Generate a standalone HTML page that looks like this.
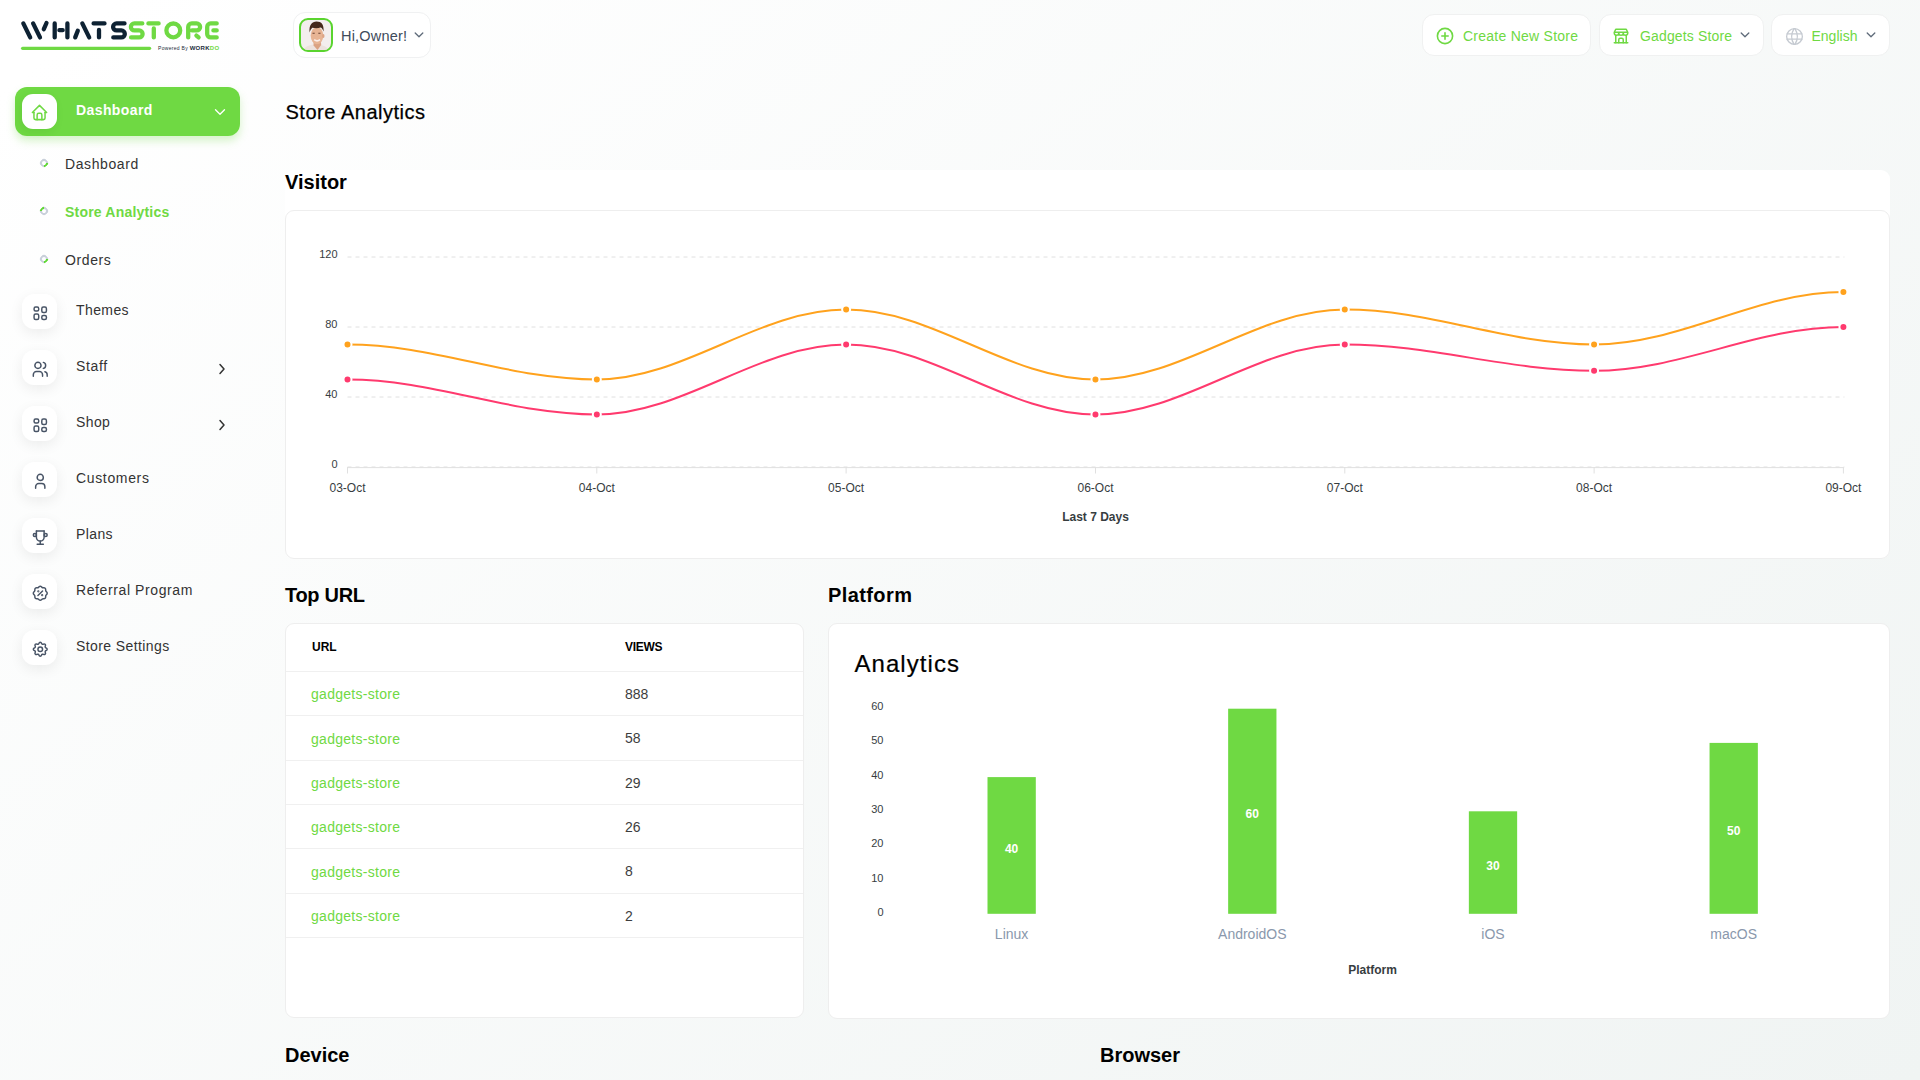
<!DOCTYPE html>
<html>
<head>
<meta charset="utf-8">
<style>
*{box-sizing:border-box;margin:0;padding:0}
html,body{width:1920px;height:1080px;overflow:hidden}
body{font-family:"Liberation Sans",sans-serif;background:linear-gradient(141.55deg,rgba(240,244,243,0) 3.46%,#f0f4f3 99.86%),#fff;position:relative;color:#333}
.a{position:absolute;white-space:nowrap}
.ibox{position:absolute;left:22px;width:35px;height:35px;border-radius:12px;background:#fff;box-shadow:0 4px 14px rgba(0,0,0,0.07)}
.ibox svg{position:absolute;left:9.2px;top:9.8px;width:18.5px;height:18.5px;fill:none;stroke:#485466;stroke-width:1.9;stroke-linecap:round;stroke-linejoin:round}
.mtxt{position:absolute;left:76px;font-size:14px;letter-spacing:0.4px;color:#333;white-space:nowrap;line-height:1}
.chev{position:absolute;left:218px;width:8px;height:12px}
.sub{position:absolute;left:65px;font-size:14px;letter-spacing:0.6px;color:#333;white-space:nowrap;line-height:1}
.dot{position:absolute;left:40px;width:8px;height:8px;border-radius:50%;border:2px solid #c9d0da}
.btn{position:absolute;top:14px;height:42px;background:#fff;border-radius:12px;border:1px solid #f0f1f1}
.btn .t{position:absolute;font-size:14px;color:#6fd943;white-space:nowrap;line-height:1}
.ttl{position:absolute;font-size:20px;font-weight:700;color:#000;white-space:nowrap;line-height:1}
.card{position:absolute;background:#fff;border:1px solid #eeeeee;border-radius:9px}
</style>
</head>
<body>
<!-- LOGO -->
<svg class="a" style="left:0;top:0" width="240" height="60" viewBox="0 0 240 60">
 <g fill="none" stroke="#0e2233" stroke-width="4.3" stroke-linecap="round" stroke-linejoin="round">
  <path d="M23.3,23.4 L30.2,37.4 M33.1,23.4 L40,37.4 M46.5,23 L43.8,29.2"/>
  <path d="M54.7,23.4 V37.4 M67.4,23.4 V37.4 M59.4,30.2 H62.7"/>
  <path d="M77.8,30.8 L75.2,37.4 M82.3,23.4 L89.2,37.4"/>
  <path d="M93.6,23.4 H104.5 M99,30 V37.4"/>
  <path d="M124.5,23.4 H116.6 A3.5,3.5 0 0 0 116.6,30.4 H121.3 A3.5,3.5 0 0 1 121.3,37.4 H113.3"/>
 </g>
 <g fill="none" stroke="#6fd943" stroke-width="4.3" stroke-linecap="round" stroke-linejoin="round">
  <path d="M142.3,23.4 H134.4 A3.5,3.5 0 0 0 134.4,30.4 H139.1 A3.5,3.5 0 0 1 139.1,37.4 H131.1"/>
  <path d="M148.4,23.4 H158.6 M153.8,28.4 V37.4"/>
  <circle cx="173.3" cy="30.4" r="6.9"/>
  <path d="M188.2,37.4 V27 A3.6,3.6 0 0 1 191.8,23.4 H196.6 A3.5,3.5 0 0 1 196.6,30.4 H192 M196.4,35.6 L198.6,37.4"/>
  <path d="M216.7,23.4 H210.7 A3.5,3.5 0 0 0 207.2,26.9 V33.9 A3.5,3.5 0 0 0 210.7,37.4 H216.7 M213.4,30.4 H216.7"/>
  <path d="M22.6,48.3 H149.6" stroke-width="3.2"/>
 </g>
 <text x="158" y="50" font-family="Liberation Sans" font-size="5" fill="#1b2a38" letter-spacing="0.3">Powered By <tspan font-weight="700" font-size="6">WORK</tspan><tspan font-weight="700" font-size="6" fill="#6fd943">DO</tspan></text>
</svg>

<!-- SIDEBAR ACTIVE -->
<div class="a" style="left:15px;top:87px;width:225px;height:49px;background:#6fd943;border-radius:12px;box-shadow:0 5px 9px rgba(111,217,67,0.28)"></div>
<div class="a" style="left:22px;top:94px;width:35px;height:35px;background:#fff;border-radius:11px;box-shadow:-2px 3px 8px rgba(40,120,20,0.12)"></div>
<svg class="a" style="left:30px;top:103px" width="19" height="19" viewBox="0 0 24 24" fill="none" stroke="#6fd943" stroke-width="1.9" stroke-linecap="round" stroke-linejoin="round"><path d="M5 12l-2 0l9 -9l9 9l-2 0"/><path d="M5 12v7a2 2 0 0 0 2 2h10a2 2 0 0 0 2 -2v-7"/><path d="M9 21v-6a2 2 0 0 1 2 -2h2a2 2 0 0 1 2 2v6"/></svg>
<div class="a" style="left:76px;top:103px;font-size:14px;font-weight:700;color:#fff;line-height:1;letter-spacing:0.4px">Dashboard</div>
<svg class="a" style="left:214px;top:105.5px" width="12" height="12" viewBox="0 0 12 12" fill="none" stroke="#fff" stroke-width="1.35" stroke-linecap="round" stroke-linejoin="round"><path d="M1.5 3.8 L6 8.2 L10.5 3.8"/></svg>

<!-- SUB ITEMS -->
<div class="dot" style="top:159px;border-right-color:#5fd834;transform:rotate(45deg)"></div>
<div class="sub" style="top:157px">Dashboard</div>
<div class="dot" style="top:207px;border-left-color:#5fd834;transform:rotate(45deg)"></div>
<div class="sub" style="top:205px;color:#6fd943;font-weight:700;letter-spacing:0.2px">Store Analytics</div>
<div class="dot" style="top:255px;border-right-color:#5fd834;transform:rotate(45deg)"></div>
<div class="sub" style="top:253px">Orders</div>

<!-- MENU -->
<div class="ibox" style="top:294px"><svg viewBox="0 0 24 24"><path d="M4 4m0 2a2 2 0 0 1 2 -2h2a2 2 0 0 1 2 2v1a2 2 0 0 1 -2 2h-2a2 2 0 0 1 -2 -2z"/><path d="M4 13m0 2a2 2 0 0 1 2 -2h2a2 2 0 0 1 2 2v3a2 2 0 0 1 -2 2h-2a2 2 0 0 1 -2 -2z"/><path d="M14 4m0 2a2 2 0 0 1 2 -2h2a2 2 0 0 1 2 2v3a2 2 0 0 1 -2 2h-2a2 2 0 0 1 -2 -2z"/><path d="M14 15m0 2a2 2 0 0 1 2 -2h2a2 2 0 0 1 2 2v1a2 2 0 0 1 -2 2h-2a2 2 0 0 1 -2 -2z"/></svg></div>
<div class="mtxt" style="top:303px">Themes</div>

<div class="ibox" style="top:350px"><svg viewBox="0 0 24 24"><path d="M9 7m-4 0a4 4 0 1 0 8 0a4 4 0 1 0 -8 0"/><path d="M3 21v-2a4 4 0 0 1 4 -4h4a4 4 0 0 1 4 4v2"/><path d="M16 3.13a4 4 0 0 1 0 7.75"/><path d="M21 21v-2a4 4 0 0 0 -3 -3.85"/></svg></div>
<div class="mtxt" style="top:359px;letter-spacing:0.65px">Staff</div>
<svg class="chev" style="top:363px" viewBox="0 0 8 12" fill="none" stroke="#333" stroke-width="1.5" stroke-linecap="round" stroke-linejoin="round"><path d="M2 1.5 L6 6 L2 10.5"/></svg>

<div class="ibox" style="top:406px"><svg viewBox="0 0 24 24"><path d="M4 4m0 2a2 2 0 0 1 2 -2h2a2 2 0 0 1 2 2v1a2 2 0 0 1 -2 2h-2a2 2 0 0 1 -2 -2z"/><path d="M4 13m0 2a2 2 0 0 1 2 -2h2a2 2 0 0 1 2 2v3a2 2 0 0 1 -2 2h-2a2 2 0 0 1 -2 -2z"/><path d="M14 4m0 2a2 2 0 0 1 2 -2h2a2 2 0 0 1 2 2v3a2 2 0 0 1 -2 2h-2a2 2 0 0 1 -2 -2z"/><path d="M14 15m0 2a2 2 0 0 1 2 -2h2a2 2 0 0 1 2 2v1a2 2 0 0 1 -2 2h-2a2 2 0 0 1 -2 -2z"/></svg></div>
<div class="mtxt" style="top:415px">Shop</div>
<svg class="chev" style="top:419px" viewBox="0 0 8 12" fill="none" stroke="#333" stroke-width="1.5" stroke-linecap="round" stroke-linejoin="round"><path d="M2 1.5 L6 6 L2 10.5"/></svg>

<div class="ibox" style="top:462px"><svg viewBox="0 0 24 24"><path d="M8 7a4 4 0 1 0 8 0a4 4 0 0 0 -8 0"/><path d="M6 21v-2a4 4 0 0 1 4 -4h4a4 4 0 0 1 4 4v2"/></svg></div>
<div class="mtxt" style="top:471px;letter-spacing:0.65px">Customers</div>

<div class="ibox" style="top:518px"><svg viewBox="0 0 24 24"><path d="M8 21l8 0"/><path d="M12 17l0 4"/><path d="M7 4l10 0"/><path d="M17 4v8a5 5 0 0 1 -10 0v-8"/><path d="M5 9m-2 0a2 2 0 1 0 4 0a2 2 0 1 0 -4 0"/><path d="M19 9m-2 0a2 2 0 1 0 4 0a2 2 0 1 0 -4 0"/></svg></div>
<div class="mtxt" style="top:527px">Plans</div>

<div class="ibox" style="top:574px"><svg viewBox="0 0 24 24"><path d="M9 15l6 -6"/><circle cx="9.5" cy="9.5" r=".5" fill="currentColor"/><circle cx="14.5" cy="14.5" r=".5" fill="currentColor"/><path d="M5 7.2a2.2 2.2 0 0 1 2.2 -2.2h1a2.2 2.2 0 0 0 1.55 -.64l.7 -.7a2.2 2.2 0 0 1 3.12 0l.7 .7c.412 .41 .97 .64 1.55 .64h1a2.2 2.2 0 0 1 2.2 2.2v1c0 .58 .23 1.138 .64 1.55l.7 .7a2.2 2.2 0 0 1 0 3.12l-.7 .7a2.2 2.2 0 0 0 -.64 1.55v1a2.2 2.2 0 0 1 -2.2 2.2h-1a2.2 2.2 0 0 0 -1.55 .64l-.7 .7a2.2 2.2 0 0 1 -3.12 0l-.7 -.7a2.2 2.2 0 0 0 -1.55 -.64h-1a2.2 2.2 0 0 1 -2.2 -2.2v-1a2.2 2.2 0 0 0 -.64 -1.55l-.7 -.7a2.2 2.2 0 0 1 0 -3.12l.7 -.7a2.2 2.2 0 0 0 .64 -1.55v-1"/></svg></div>
<div class="mtxt" style="top:583px;letter-spacing:0.6px">Referral Program</div>

<div class="ibox" style="top:630px"><svg viewBox="0 0 24 24"><path d="M10.325 4.317c.426 -1.756 2.924 -1.756 3.35 0a1.724 1.724 0 0 0 2.573 1.066c1.543 -.94 3.31 .826 2.37 2.37a1.724 1.724 0 0 0 1.065 2.572c1.756 .426 1.756 2.924 0 3.35a1.724 1.724 0 0 0 -1.066 2.573c.94 1.543 -.826 3.31 -2.37 2.37a1.724 1.724 0 0 0 -2.572 1.065c-.426 1.756 -2.924 1.756 -3.35 0a1.724 1.724 0 0 0 -2.573 -1.066c-1.543 .94 -3.31 -.826 -2.37 -2.37a1.724 1.724 0 0 0 -1.065 -2.572c-1.756 -.426 -1.756 -2.924 0 -3.35a1.724 1.724 0 0 0 1.066 -2.573c-.94 -1.543 .826 -3.31 2.37 -2.37c1 .608 2.296 .07 2.572 -1.065z"/><path d="M9 12a3 3 0 1 0 6 0a3 3 0 0 0 -6 0"/></svg></div>
<div class="mtxt" style="top:639px">Store Settings</div>

<!-- HEADER -->
<div class="a" style="left:293px;top:12px;width:138px;height:46px;background:#fff;border:1px solid #f0f1f2;border-radius:12px"></div>
<div class="a" style="left:299px;top:18px;width:34px;height:34px;border:2px solid #5ad42f;border-radius:9px;background:#f3eeee;overflow:hidden">
 <svg width="30" height="30" viewBox="0 0 30 30" style="position:absolute;left:0;top:0">
  <path d="M2,31 C4,26 9,24.5 15,24.5 C21,24.5 26,26 28,31 Z" fill="#ece2de"/>
  <path d="M12.5,20 L12.6,25.5 L16.5,30 L20.2,25 L19.8,20 Z" fill="#dba283"/>
  <ellipse cx="16" cy="15.6" rx="6.3" ry="8.6" fill="#e7b494"/>
  <ellipse cx="22.3" cy="16" rx="1.2" ry="2" fill="#dca486"/>
  <path d="M8.6,12.5 C7.8,5 11,1.6 15.5,1.6 C20.5,1.6 23,4.5 22.6,11.5 C21.5,9 20.5,7.8 19.5,7.6 C17,8.4 13.5,8.2 11.3,7.8 C10,9 9.3,10.5 8.6,12.5 Z" fill="#45271a"/>
  <path d="M11.5,13.2 h2.2 M17.3,13.2 h2.2" stroke="#6b4232" stroke-width="1.1"/>
  <path d="M13.2,19.6 C14.8,21 17.4,21 19,19.6" stroke="#fbeeea" stroke-width="1.5" fill="none"/>
 </svg>
</div>
<div class="a" style="left:341px;top:28.5px;font-size:14.5px;color:#404b5a;line-height:1;letter-spacing:0.2px">Hi,Owner!</div>
<svg class="a" style="left:413px;top:30px" width="12" height="10" viewBox="0 0 12 10" fill="none" stroke="#5f6b7a" stroke-width="1.3" stroke-linecap="round" stroke-linejoin="round"><path d="M2.2 3 L6 6.8 L9.8 3"/></svg>

<div class="btn" style="left:1422px;width:169px">
 <svg class="a" style="left:13px;top:12px" width="18" height="18" viewBox="0 0 18 18" fill="none" stroke="#6fd943" stroke-width="1.6" stroke-linecap="round"><circle cx="9" cy="9" r="7.6"/><path d="M9 5.8 V12.2 M5.8 9 H12.2"/></svg>
 <div class="t" style="left:40px;top:14px;letter-spacing:0.25px">Create New Store</div>
</div>
<div class="btn" style="left:1599px;width:165px">
 <svg class="a" style="left:12px;top:12px" width="18" height="18" viewBox="0 0 24 24" fill="none" stroke="#6fd943" stroke-width="2" stroke-linecap="round" stroke-linejoin="round"><path d="M3 21l18 0"/><path d="M3 7v1a3 3 0 0 0 6 0v-1m0 1a3 3 0 0 0 6 0v-1m0 1a3 3 0 0 0 6 0v-1h-18l2 -4h14l2 4"/><path d="M5 21l0 -10.15"/><path d="M19 21l0 -10.15"/><path d="M9 21v-4a2 2 0 0 1 2 -2h2a2 2 0 0 1 2 2v4"/></svg>
 <div class="t" style="left:40px;top:14px;letter-spacing:0.15px">Gadgets Store</div>
 <svg class="a" style="left:139px;top:15px" width="12" height="10" viewBox="0 0 12 10" fill="none" stroke="#5f6b7a" stroke-width="1.3" stroke-linecap="round" stroke-linejoin="round"><path d="M2.2 3 L6 6.8 L9.8 3"/></svg>
</div>
<div class="btn" style="left:1771px;width:119px">
 <svg class="a" style="left:11.5px;top:10.5px" width="21" height="21" viewBox="0 0 24 24" fill="none" stroke="#c5cad1" stroke-width="1.5" stroke-linecap="round" stroke-linejoin="round"><path d="M3 12a9 9 0 1 0 18 0a9 9 0 0 0 -18 0"/><path d="M3.6 9h16.8"/><path d="M3.6 15h16.8"/><path d="M11.5 3a17 17 0 0 0 0 18"/><path d="M12.5 3a17 17 0 0 1 0 18"/></svg>
 <div class="t" style="left:39.5px;top:14px">English</div>
 <svg class="a" style="left:93px;top:15px" width="12" height="10" viewBox="0 0 12 10" fill="none" stroke="#5f6b7a" stroke-width="1.3" stroke-linecap="round" stroke-linejoin="round"><path d="M2.2 3 L6 6.8 L9.8 3"/></svg>
</div>

<!-- MAIN -->
<div class="a" style="left:285.5px;top:102px;font-size:20px;color:#000;line-height:1;letter-spacing:0.52px;-webkit-text-stroke:0.25px #000">Store Analytics</div>

<div class="a" style="left:285px;top:170px;width:1605px;height:389px;background:#fff;border-radius:9px"></div>
<div class="ttl" style="left:285px;top:172px">Visitor</div>
<div class="card" style="left:285px;top:210px;width:1605px;height:349px"></div>

<svg class="a" style="left:0;top:0" width="1920" height="1080" viewBox="0 0 1920 1080" font-family="Liberation Sans">
 <g stroke="#e0e0e0" stroke-width="1" stroke-dasharray="4 4" fill="none">
  <path d="M347.5,257 H1844.4"/>
  <path d="M347.5,327 H1844.4"/>
  <path d="M347.5,397 H1844.4"/>
  <path d="M347.5,467 H1844.4"/>
 </g>
 <path d="M347.5,467.6 H1843.4" stroke="#e0e0e0" stroke-width="1"/>
 <g stroke="#e0e0e0" stroke-width="1">
  <path d="M347.5,467 V473.5 M596.8,467 V473.5 M846.1,467 V473.5 M1095.5,467 V473.5 M1344.8,467 V473.5 M1594.1,467 V473.5 M1843.4,467 V473.5"/>
 </g>
 <g font-size="11" fill="#373d3f" text-anchor="end">
  <text x="337.5" y="258">120</text>
  <text x="337.5" y="328">80</text>
  <text x="337.5" y="398">40</text>
  <text x="337.5" y="468">0</text>
 </g>
 <g font-size="12" fill="#373d3f" text-anchor="middle">
  <text x="347.5" y="492">03-Oct</text>
  <text x="596.8" y="492">04-Oct</text>
  <text x="846.1" y="492">05-Oct</text>
  <text x="1095.5" y="492">06-Oct</text>
  <text x="1344.8" y="492">07-Oct</text>
  <text x="1594.1" y="492">08-Oct</text>
  <text x="1843.4" y="492">09-Oct</text>
  <text x="1095.5" y="520.7" font-weight="700">Last 7 Days</text>
 </g>
 <path fill="none" stroke="#ffa21d" stroke-width="2" d="M347.50,344.50 C434.76,344.50 509.56,379.50 596.82,379.50 C684.08,379.50 758.87,309.50 846.13,309.50 C933.39,309.50 1008.19,379.50 1095.45,379.50 C1182.71,379.50 1257.51,309.50 1344.77,309.50 C1432.03,309.50 1506.82,344.50 1594.08,344.50 C1681.34,344.50 1756.14,292.00 1843.40,292.00"/>
 <path fill="none" stroke="#ff3a6e" stroke-width="2" d="M347.50,379.50 C434.76,379.50 509.56,414.50 596.82,414.50 C684.08,414.50 758.87,344.50 846.13,344.50 C933.39,344.50 1008.19,414.50 1095.45,414.50 C1182.71,414.50 1257.51,344.50 1344.77,344.50 C1432.03,344.50 1506.82,370.75 1594.08,370.75 C1681.34,370.75 1756.14,327.00 1843.40,327.00"/>
 <g fill="#ffa21d" stroke="#fff" stroke-width="2">
  <circle cx="347.50" cy="344.50" r="4"/><circle cx="596.82" cy="379.50" r="4"/><circle cx="846.13" cy="309.50" r="4"/><circle cx="1095.45" cy="379.50" r="4"/><circle cx="1344.77" cy="309.50" r="4"/><circle cx="1594.08" cy="344.50" r="4"/><circle cx="1843.40" cy="292.00" r="4"/>
 </g>
 <g fill="#ff3a6e" stroke="#fff" stroke-width="2">
  <circle cx="347.50" cy="379.50" r="4"/><circle cx="596.82" cy="414.50" r="4"/><circle cx="846.13" cy="344.50" r="4"/><circle cx="1095.45" cy="414.50" r="4"/><circle cx="1344.77" cy="344.50" r="4"/><circle cx="1594.08" cy="370.75" r="4"/><circle cx="1843.40" cy="327.00" r="4"/>
 </g>
</svg>

<!-- TOP URL -->
<div class="ttl" style="left:285px;top:585px;letter-spacing:-0.3px">Top URL</div>
<div class="card" style="left:285px;top:623px;width:519px;height:395px;overflow:hidden">
 <div class="a" style="left:26px;top:17px;font-size:12px;font-weight:700;color:#000;line-height:1">URL</div>
 <div class="a" style="left:339px;top:17px;font-size:12px;font-weight:700;color:#000;line-height:1;letter-spacing:-0.3px">VIEWS</div>
 <div class="a" style="left:0;top:47.00px;width:519px;height:1px;background:#f0f0f0"></div>
 <div class="a" style="left:25px;top:63.40px;font-size:14px;color:#6fd943;line-height:1;letter-spacing:0.28px">gadgets-store</div>
 <div class="a" style="left:339px;top:63.00px;font-size:14px;color:#3d3d3d;line-height:1">888</div>
 <div class="a" style="left:0;top:91.33px;width:519px;height:1px;background:#f0f0f0"></div>
 <div class="a" style="left:25px;top:107.73px;font-size:14px;color:#6fd943;line-height:1;letter-spacing:0.28px">gadgets-store</div>
 <div class="a" style="left:339px;top:107.33px;font-size:14px;color:#3d3d3d;line-height:1">58</div>
 <div class="a" style="left:0;top:135.66px;width:519px;height:1px;background:#f0f0f0"></div>
 <div class="a" style="left:25px;top:152.06px;font-size:14px;color:#6fd943;line-height:1;letter-spacing:0.28px">gadgets-store</div>
 <div class="a" style="left:339px;top:151.66px;font-size:14px;color:#3d3d3d;line-height:1">29</div>
 <div class="a" style="left:0;top:179.99px;width:519px;height:1px;background:#f0f0f0"></div>
 <div class="a" style="left:25px;top:196.39px;font-size:14px;color:#6fd943;line-height:1;letter-spacing:0.28px">gadgets-store</div>
 <div class="a" style="left:339px;top:195.99px;font-size:14px;color:#3d3d3d;line-height:1">26</div>
 <div class="a" style="left:0;top:224.32px;width:519px;height:1px;background:#f0f0f0"></div>
 <div class="a" style="left:25px;top:240.72px;font-size:14px;color:#6fd943;line-height:1;letter-spacing:0.28px">gadgets-store</div>
 <div class="a" style="left:339px;top:240.32px;font-size:14px;color:#3d3d3d;line-height:1">8</div>
 <div class="a" style="left:0;top:268.65px;width:519px;height:1px;background:#f0f0f0"></div>
 <div class="a" style="left:25px;top:285.05px;font-size:14px;color:#6fd943;line-height:1;letter-spacing:0.28px">gadgets-store</div>
 <div class="a" style="left:339px;top:284.65px;font-size:14px;color:#3d3d3d;line-height:1">2</div>
 <div class="a" style="left:0;top:312.98px;width:519px;height:1px;background:#f0f0f0"></div>
</div>

<!-- PLATFORM -->
<div class="ttl" style="left:828px;top:585px;letter-spacing:0.4px">Platform</div>
<div class="card" style="left:828px;top:623px;width:1062px;height:396px"></div>
<div class="a" style="left:854.5px;top:652px;font-size:24px;color:#000;line-height:1;letter-spacing:1.05px;-webkit-text-stroke:0.2px #000">Analytics</div>
<svg class="a" style="left:0;top:0" width="1920" height="1080" viewBox="0 0 1920 1080" font-family="Liberation Sans">
 <g font-size="11" fill="#373d3f" text-anchor="end">
  <text x="883.5" y="710">60</text>
  <text x="883.5" y="744.33">50</text>
  <text x="883.5" y="778.67">40</text>
  <text x="883.5" y="813">30</text>
  <text x="883.5" y="847.33">20</text>
  <text x="883.5" y="881.67">10</text>
  <text x="883.5" y="916">0</text>
 </g>
 <g fill="#6fd943">
  <rect x="987.5" y="777.1" width="48.3" height="136.7"/>
  <rect x="1228.15" y="708.7" width="48.3" height="205.1"/>
  <rect x="1468.85" y="811.3" width="48.3" height="102.5"/>
  <rect x="1709.55" y="742.9" width="48.3" height="170.9"/>
 </g>
 <g font-size="12" font-weight="700" fill="#fff" text-anchor="middle">
  <text x="1011.6" y="853">40</text>
  <text x="1252.3" y="817.8">60</text>
  <text x="1493" y="870">30</text>
  <text x="1733.7" y="834.9">50</text>
 </g>
 <g font-size="14" fill="#8a98ac" text-anchor="middle">
  <text x="1011.6" y="939">Linux</text>
  <text x="1252.3" y="939">AndroidOS</text>
  <text x="1493" y="939">iOS</text>
  <text x="1733.7" y="939">macOS</text>
 </g>
 <text x="1372.5" y="973.5" font-size="12" font-weight="700" fill="#373d3f" text-anchor="middle">Platform</text>
</svg>

<div class="ttl" style="left:285px;top:1045px">Device</div>
<div class="ttl" style="left:1100px;top:1045px">Browser</div>
</body>
</html>
